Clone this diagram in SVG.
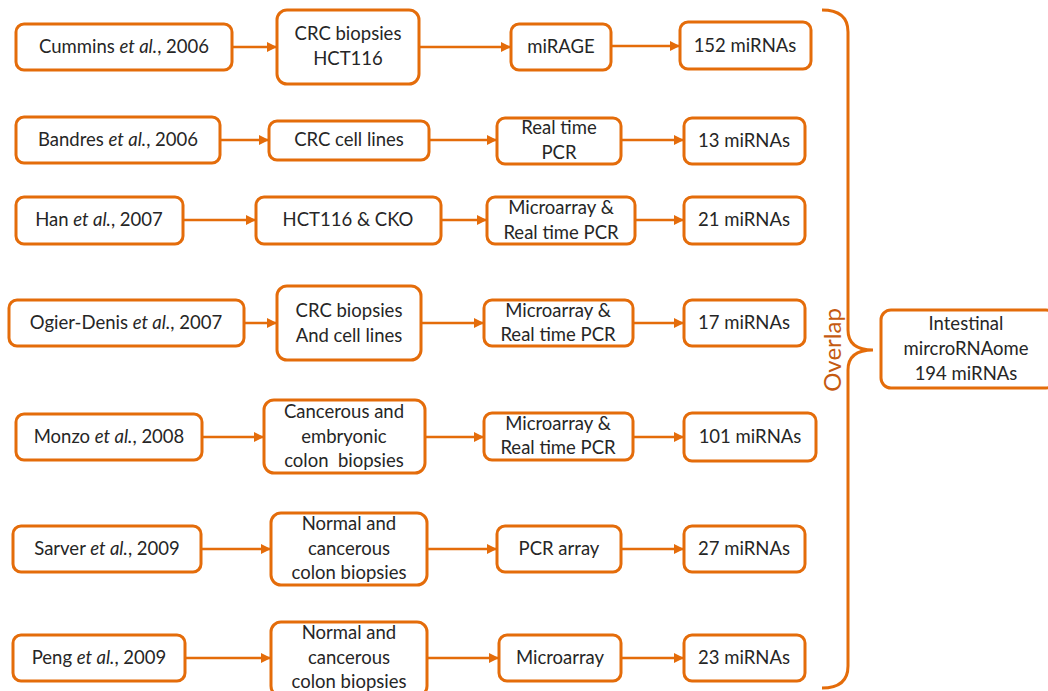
<svg xmlns="http://www.w3.org/2000/svg" width="1048" height="691" viewBox="0 0 1048 691">
  <defs>
    <marker id="arrow" viewBox="0 0 10 10" refX="10" refY="5" markerWidth="4.2" markerHeight="4.2" orient="auto" markerUnits="strokeWidth">
      <path d="M0,0 L10,5 L0,10 z" fill="#E46C0A"/>
    </marker>
    <style>
      .box { fill: #ffffff; stroke: #E46C0A; stroke-width: 3; }
      .t { font-family: Lato, "Open Sans", "Liberation Sans", sans-serif; font-size: 18.5px; fill: #262626; text-anchor: middle; white-space: pre; }
      .conn line { stroke: #E46C0A; stroke-width: 2.5; marker-end: url(#arrow); }
      .brace { fill: none; stroke: #E46C0A; stroke-width: 3; }
      .overlap { font-family: Lato, "Open Sans", "Liberation Sans", sans-serif; font-size: 24px; fill: #C55A11; text-anchor: middle; }
    </style>
  </defs>
  <rect width="1048" height="691" fill="#ffffff"/>

  <!-- Row 1 -->
  <g id="cummins"><rect class="box" x="16" y="24" width="216" height="46" rx="8"/><text class="t" x="124" y="53">Cummins <tspan font-style="italic">et al.</tspan>, 2006</text></g>
  <g id="crc-hct116"><rect class="box" x="277" y="10" width="142" height="74" rx="10"/><text class="t" x="348" y="40">CRC biopsies</text><text class="t" x="348" y="65">HCT116</text></g>
  <g id="mirage"><rect class="box" x="511" y="24" width="100" height="46" rx="8"/><text class="t" x="561" y="53">miRAGE</text></g>
  <g id="res152"><rect class="box" x="680" y="22" width="131" height="47" rx="8"/><text class="t" x="745" y="52">152 miRNAs</text></g>

  <!-- Row 2 -->
  <g id="bandres"><rect class="box" x="16" y="117" width="204" height="46" rx="8"/><text class="t" x="118" y="146">Bandres <tspan font-style="italic">et al.</tspan>, 2006</text></g>
  <g id="crc-cells"><rect class="box" x="269" y="121" width="160" height="39" rx="8"/><text class="t" x="349" y="146">CRC cell lines</text></g>
  <g id="rtpcr"><rect class="box" x="497" y="118" width="124" height="46" rx="8"/><text class="t" x="559" y="134">Real time</text><text class="t" x="559" y="159">PCR</text></g>
  <g id="res13"><rect class="box" x="684" y="118" width="121" height="46" rx="8"/><text class="t" x="744" y="147">13 miRNAs</text></g>

  <!-- Row 3 -->
  <g id="han"><rect class="box" x="16" y="197" width="167" height="47" rx="8"/><text class="t" x="99" y="226">Han <tspan font-style="italic">et al.</tspan>, 2007</text></g>
  <g id="hct-cko"><rect class="box" x="256" y="197" width="185" height="47" rx="8"/><text class="t" x="348" y="226">HCT116 &amp; CKO</text></g>
  <g id="ma-rt-1"><rect class="box" x="487" y="197" width="148" height="47" rx="8"/><text class="t" x="561" y="214">Microarray &amp;</text><text class="t" x="561" y="239">Real time PCR</text></g>
  <g id="res21"><rect class="box" x="684" y="197" width="121" height="47" rx="8"/><text class="t" x="744" y="226">21 miRNAs</text></g>

  <!-- Row 4 -->
  <g id="ogier"><rect class="box" x="9" y="300" width="235" height="46" rx="8"/><text class="t" x="126" y="329">Ogier-Denis <tspan font-style="italic">et al.</tspan>, 2007</text></g>
  <g id="crc-and-cells"><rect class="box" x="277" y="286" width="144" height="74" rx="10"/><text class="t" x="349" y="317">CRC biopsies</text><text class="t" x="349" y="342">And cell lines</text></g>
  <g id="ma-rt-2"><rect class="box" x="484" y="300" width="149" height="46" rx="8"/><text class="t" x="558" y="317">Microarray &amp;</text><text class="t" x="558" y="341">Real time PCR</text></g>
  <g id="res17"><rect class="box" x="684" y="300" width="121" height="46" rx="8"/><text class="t" x="744" y="329">17 miRNAs</text></g>

  <!-- Row 5 -->
  <g id="monzo"><rect class="box" x="16" y="414" width="186" height="46" rx="8"/><text class="t" x="109" y="443">Monzo <tspan font-style="italic">et al.</tspan>, 2008</text></g>
  <g id="cancer-embryo"><rect class="box" x="264" y="400" width="161" height="73" rx="10"/><text class="t" x="344" y="418">Cancerous and</text><text class="t" x="344" y="443">embryonic</text><text class="t" x="344" y="467">colon  biopsies</text></g>
  <g id="ma-rt-3"><rect class="box" x="484" y="413" width="149" height="47" rx="8"/><text class="t" x="558" y="430">Microarray &amp;</text><text class="t" x="558" y="454">Real time PCR</text></g>
  <g id="res101"><rect class="box" x="684" y="413" width="132" height="48" rx="8"/><text class="t" x="750" y="443">101 miRNAs</text></g>

  <!-- Row 6 -->
  <g id="sarver"><rect class="box" x="13" y="526" width="188" height="46" rx="8"/><text class="t" x="107" y="555">Sarver <tspan font-style="italic">et al.</tspan>, 2009</text></g>
  <g id="normal-cancer-1"><rect class="box" x="271" y="513" width="156" height="72" rx="10"/><text class="t" x="349" y="530">Normal and</text><text class="t" x="349" y="555">cancerous</text><text class="t" x="349" y="579">colon biopsies</text></g>
  <g id="pcr-array"><rect class="box" x="497" y="526" width="124" height="46" rx="8"/><text class="t" x="559" y="555">PCR array</text></g>
  <g id="res27"><rect class="box" x="684" y="526" width="121" height="46" rx="8"/><text class="t" x="744" y="555">27 miRNAs</text></g>

  <!-- Row 7 -->
  <g id="peng"><rect class="box" x="13" y="635" width="172" height="46" rx="8"/><text class="t" x="99" y="664">Peng <tspan font-style="italic">et al.</tspan>, 2009</text></g>
  <g id="normal-cancer-2"><rect class="box" x="271" y="622" width="156" height="74" rx="10"/><text class="t" x="349" y="639">Normal and</text><text class="t" x="349" y="664">cancerous</text><text class="t" x="349" y="688">colon biopsies</text></g>
  <g id="microarray"><rect class="box" x="499" y="635" width="122" height="46" rx="8"/><text class="t" x="560" y="664">Microarray</text></g>
  <g id="res23"><rect class="box" x="684" y="635" width="121" height="46" rx="8"/><text class="t" x="744" y="664">23 miRNAs</text></g>

  <!-- Combined result -->
  <g id="overlap-brace">
    <path class="brace" d="M822,10 Q848,10 848,32 L848,330 Q848,350 873,350 Q848,350 848,370 L848,666 Q848,688 822,688"/>
    <text class="overlap" transform="translate(841,350) rotate(-90)">Overlap</text>
  </g>
  <g id="intestinal"><rect class="box" x="881" y="310" width="175" height="78" rx="10"/><text class="t" x="966" y="330">Intestinal</text><text class="t" x="966" y="355">mircroRNAome</text><text class="t" x="966" y="380">194 miRNAs</text></g>

  <!-- Connectors -->
  <g class="conn">
    <line x1="232" y1="47" x2="277" y2="47"/>
    <line x1="419" y1="47" x2="511" y2="47"/>
    <line x1="611" y1="46" x2="680" y2="46"/>

    <line x1="220" y1="140" x2="269" y2="140"/>
    <line x1="429" y1="140" x2="497" y2="140"/>
    <line x1="621" y1="140" x2="684" y2="140"/>

    <line x1="183" y1="220" x2="256" y2="220"/>
    <line x1="441" y1="220" x2="487" y2="220"/>
    <line x1="635" y1="220" x2="684" y2="220"/>

    <line x1="244" y1="323" x2="277" y2="323"/>
    <line x1="421" y1="323" x2="484" y2="323"/>
    <line x1="633" y1="323" x2="684" y2="323"/>

    <line x1="202" y1="437" x2="264" y2="437"/>
    <line x1="425" y1="437" x2="484" y2="437"/>
    <line x1="633" y1="437" x2="684" y2="437"/>

    <line x1="201" y1="549" x2="271" y2="549"/>
    <line x1="427" y1="549" x2="497" y2="549"/>
    <line x1="621" y1="549" x2="684" y2="549"/>

    <line x1="185" y1="658" x2="271" y2="658"/>
    <line x1="427" y1="658" x2="499" y2="658"/>
    <line x1="621" y1="658" x2="684" y2="658"/>
  </g>
</svg>
